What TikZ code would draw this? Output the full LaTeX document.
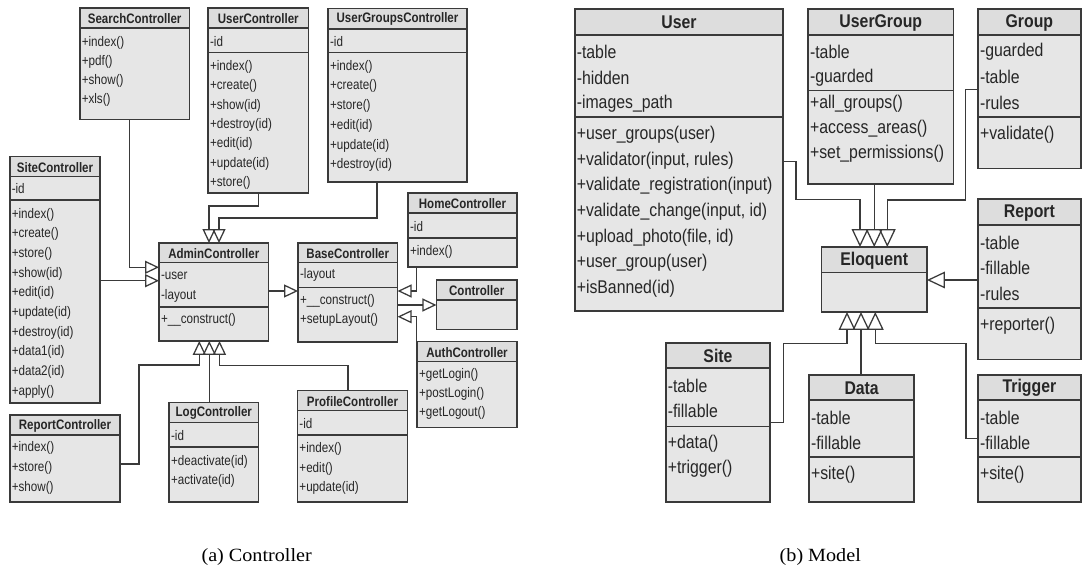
\documentclass[tikz,border=0pt]{standalone}
\usepackage{fontspec}
\setmainfont{Liberation Sans}[FakeStretch=0.86]
\newfontfamily\leftfont{Liberation Sans}[FakeStretch=0.84]
\newfontfamily\capfont{Liberation Serif}[FakeStretch=1.08]
\usetikzlibrary{arrows.meta,fit}
\definecolor{bodygray}{HTML}{E6E6E6}
\definecolor{headgray}{HTML}{DDDDDD}
\definecolor{linegray}{HTML}{3A3A3A}
% #1 name #2 x1 #3 y1 #4 x2 #5 y2 #6 header bottom #7 separator (or empty) #8 title #9 title style
\newcommand\umlclass[9]{%
  \node[umlbody, fit={(#2,#3)(#4,#5)}] (#1) {};
  \fill[headgray] (#2,#3) rectangle (#4,#6);
  \draw[umlline] (#2,#6) -- (#4,#6);
  \ifx\relax#7\relax\else\draw[umlline] (#2,#7) -- (#4,#7);\fi
  \draw[umlline] (#1.north west) rectangle (#1.south east);
  \node[#9] (#1-title) at ({(#2+#4)/2},{(#3+#6)/2+0.5}) {#8};
}
% #1 name prefix #2 x #3 first y #4 step #5 style #6 list
\newcommand\umlitems[6]{%
  \foreach \txt [count=\i] in {#6} {
    \node[#5] (#1\i) at ({#2+1.5},{#3+(\i-1)*#4}) {\txt};
  }
}
\begin{document}
\begin{tikzpicture}[x=0.75pt,y=-0.75pt,
  umlbody/.style={fill=bodygray, draw=none, inner sep=0pt},
  umlline/.style={draw=linegray, line width=1.2pt},
  lhead/.style={font=\leftfont\fontsize{10.3}{12}\selectfont\bfseries, text=black!85, inner sep=0pt},
  litem/.style={font=\leftfont\fontsize{10.4}{12}\selectfont, text=black!85, inner sep=0pt, anchor=west},
  rhead/.style={font=\fontsize{13.8}{16}\selectfont\bfseries, text=black!85, inner sep=0pt},
  ritem/.style={font=\fontsize{13.8}{16}\selectfont, text=black!85, inner sep=0pt, anchor=west},
  genS/.style={draw=linegray, line width=0.95pt, -{Triangle[open, width=9.75pt, length=10.5pt]}},
  genL/.style={draw=linegray, line width=0.95pt, -{Triangle[open, width=12.5pt, length=13.5pt]}},
  caption/.style={font=\capfont\fontsize{14}{16}\selectfont, inner sep=0pt}]
\useasboundingbox (0,0) rectangle (1083,573);
\fill[white] (0,0) rectangle (1083,573);

% ---------------- (a) Controller ----------------
\umlclass{searchc}{80}{8.3}{189.3}{119.3}{28.3}{}{SearchController}{lhead}
\umlitems{searchc-m}{80}{43}{19}{litem}{+index(),+pdf(),+show(),+xls()}

\umlclass{userc}{208.3}{8.3}{308.3}{192.7}{28.3}{52.7}{UserController}{lhead}
\umlitems{userc-a}{208.3}{41.7}{19}{litem}{-id}
\umlitems{userc-m}{208.3}{66.7}{19.4}{litem}{+index(),+create(),+show(id),+destroy(id),+edit(id),+update(id),+store()}

\umlclass{ugc}{328.3}{8.8}{466.7}{181.7}{29}{52.7}{UserGroupsController}{lhead}
\umlitems{ugc-a}{328.3}{41.7}{19}{litem}{-id}
\umlitems{ugc-m}{328.3}{66.7}{19.7}{litem}{+index(),+create(),+store(),+edit(id),+update(id),+destroy(id)}

\umlclass{sitec}{10}{156.7}{100}{402.7}{176.7}{200}{SiteController}{lhead}
\umlitems{sitec-a}{10}{188.3}{19}{litem}{-id}
\umlitems{sitec-m}{10}{214.5}{19.7}{litem}{+index(),+create(),+store(),+show(id),+edit(id),+update(id),+destroy(id),+data1(id),+data2(id),+apply()}

\umlclass{homec}{408.3}{193.3}{516.7}{266.7}{213.3}{238.3}{HomeController}{lhead}
\umlitems{homec-a}{408.3}{226.7}{19}{litem}{-id}
\umlitems{homec-m}{408.3}{251.7}{19}{litem}{+index()}

\umlclass{admin}{159.3}{243.3}{268.3}{340.7}{262.7}{307.3}{AdminController}{lhead}
\umlitems{admin-a}{159.3}{276}{20}{litem}{-user,-layout}
\umlitems{admin-m}{159.3}{320}{19}{litem}{+\_\_construct()}

\umlclass{base}{298.3}{243.3}{397.3}{341.7}{262.7}{287.7}{BaseController}{lhead}
\umlitems{base-a}{298.3}{275}{19}{litem}{-layout}
\umlitems{base-m}{298.3}{301}{18.6}{litem}{+\_\_construct(),+setupLayout()}

\umlclass{ctrl}{436.7}{280}{516.7}{329.3}{300}{}{Controller}{lhead}

\umlclass{authc}{417.3}{341.7}{516.7}{427.3}{361.7}{}{AuthController}{lhead}
\umlitems{authc-m}{417.3}{375}{19.2}{litem}{+getLogin(),+postLogin(),+getLogout()}

\umlclass{profc}{297.7}{390.7}{407.3}{501.7}{410.7}{435}{ProfileController}{lhead}
\umlitems{profc-a}{297.7}{424}{19}{litem}{-id}
\umlitems{profc-m}{297.7}{449.3}{19.5}{litem}{+index(),+edit(),+update(id)}

\umlclass{logc}{169.3}{402.7}{258.3}{501.7}{422.7}{447.3}{LogController}{lhead}
\umlitems{logc-a}{169.3}{436}{19}{litem}{-id}
\umlitems{logc-m}{169.3}{461.7}{19}{litem}{+deactivate(id),+activate(id)}

\umlclass{reportc}{10}{415}{120}{501.7}{435}{}{ReportController}{lhead}
\umlitems{reportc-m}{10}{448.3}{20}{litem}{+index(),+store(),+show()}

% connectors (a)
\draw[genS] (userc.south) -- (userc.south |- 0,206) -| (209,0 |- admin.north);
\draw[genS] (377,0 |- ugc.south) -- (377,218) -| (219,0 |- admin.north);
\draw[genS] (129.3,0 |- searchc.south) |- (admin.west |- 0,267.3);
\draw[genS] (sitec.east |- 0,280.7) -- (admin.west |- 0,280.7);
\draw[genS] (reportc.east |- 0,464) -| (139,365) -| (199.3,0 |- admin.south);
\draw[genS] (209.3,0 |- logc.north) -- (209.3,0 |- admin.south);
\draw[genS] (348,0 |- profc.north) |- (219.5,365.7) -- (219.5,0 |- admin.south);
\draw[genS] (admin.east |- 0,291) -- (base.west |- 0,291);
\draw[genS] (416.7,0 |- homec.south) |- (base.east |- 0,291);
\draw[genS] (base.east |- 0,305) -- (ctrl.west |- 0,305);
\draw[genS] (416.7,0 |- authc.north) |- (base.east |- 0,316.7);

% ---------------- (b) Model ----------------
\umlclass{user}{575}{9.3}{783}{310.7}{35}{117.3}{User}{rhead}
\umlitems{user-a}{575}{51.7}{25.8}{ritem}{-table,-hidden,-images\_path}
\umlitems{user-m}{575}{135}{25.6}{ritem}{+user\_groups(user),{+validator(input, rules)},+validate\_registration(input),{+validate\_change(input, id)},{+upload\_photo(file, id)},+user\_group(user),+isBanned(id)}

\umlclass{ug}{808.3}{9.3}{953.3}{184}{35}{90.7}{UserGroup}{rhead}
\umlitems{ug-a}{808.3}{51.7}{26}{ritem}{-table,-guarded}
\umlitems{ug-m}{808.3}{103.3}{25}{ritem}{+all\_groups(),+access\_areas(),+set\_permissions()}

\umlclass{group}{978.3}{9.3}{1080.5}{168.3}{35}{117.3}{Group}{rhead}
\umlitems{group-a}{978.3}{51.7}{25.5}{ritem}{-guarded,-table,-rules}
\umlitems{group-m}{978.3}{135}{25}{ritem}{+validate()}

\umlclass{report}{978.3}{199.5}{1080.5}{359.3}{225}{308.3}{Report}{rhead}
\umlitems{report-a}{978.3}{242.7}{25.7}{ritem}{-table,-fillable,-rules}
\umlitems{report-m}{978.3}{326}{25}{ritem}{+reporter()}

\umlclass{eloq}{821.7}{247.3}{926.7}{311.7}{272.7}{}{Eloquent}{rhead}

\umlclass{site}{666}{343.3}{770}{501.7}{368.3}{426.7}{Site}{rhead}
\umlitems{site-a}{666}{386}{24.7}{ritem}{-table,-fillable}
\umlitems{site-m}{666}{444}{24.3}{ritem}{+data(),+trigger()}

\umlclass{data}{809.3}{375}{914}{501.7}{400}{457.3}{Data}{rhead}
\umlitems{data-a}{809.3}{418.3}{25}{ritem}{-table,-fillable}
\umlitems{data-m}{809.3}{475}{25}{ritem}{+site()}

\umlclass{trigger}{978.3}{375}{1080.5}{501.7}{400}{457.3}{Trigger}{rhead}
\umlitems{trigger-a}{978.3}{418.3}{24.7}{ritem}{-table,-fillable}
\umlitems{trigger-m}{978.3}{475}{25}{ritem}{+site()}

% connectors (b)
\draw[genL] (user.east |- 0,161.7) -| (796,199.3) -| (860,0 |- eloq.north);
\draw[genL] (eloq.north |- ug.south) -- (eloq.north);
\draw[genL] (group.west |- 0,89.3) -| (965.7,200) -| (887.3,0 |- eloq.north);
\draw[genL] (report.west |- 0,280) -- (eloq.east |- 0,280);
\draw[genL] (site.east |- 0,422.7) -| (783.3,343.3) -| (847,0 |- eloq.south);
\draw[genL] (861,0 |- data.north) -- (861,0 |- eloq.south);
\draw[genL] (trigger.west |- 0,438.3) -| (966,343.3) -| (875.3,0 |- eloq.south);

% captions
\node[caption] (capa) at (256.7,556.7) {(a) Controller};
\node[caption] (capb) at (820.3,556.7) {(b) Model};
\end{tikzpicture}
\end{document}
